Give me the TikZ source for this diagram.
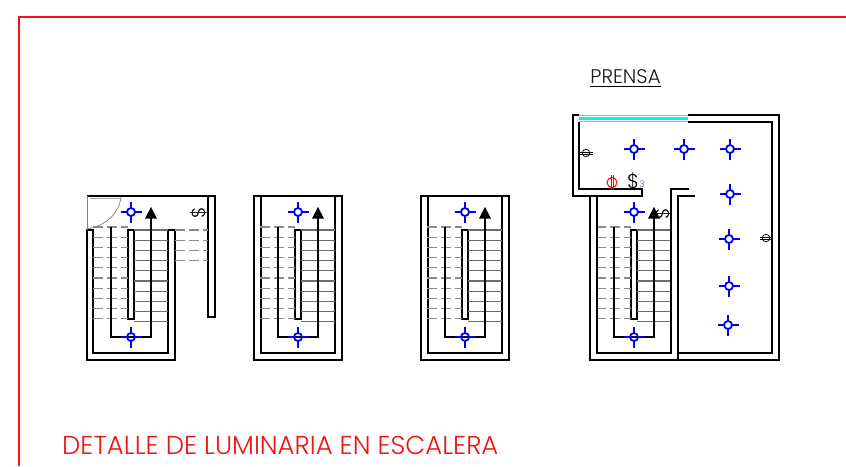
\documentclass[tikz,border=0pt]{standalone}
\usepackage{fontspec}
\setmainfont{Poppins Light}
\definecolor{lumblue}{RGB}{0,0,240}
\definecolor{framered}{RGB}{240,20,20}
\definecolor{dashgray}{RGB}{110,110,110}
\definecolor{glass}{RGB}{0,245,250}
\tikzset{
  wall/.style={draw=black,line width=1.7pt,line join=miter},
  run/.style={draw=black,line width=1.4pt},
  tread/.style={draw=dashgray,line width=1.1pt},
  hidden/.style={draw=dashgray!80,line width=1.1pt,dash pattern=on 10pt off 4pt},
  lum/.pic={
    \draw[lumblue,line width=1.8pt] (0,0) circle (4);
    \draw[lumblue,line width=1.8pt] (-10.5,0)--(-4,0) (4,0)--(10.5,0) (0,-10.5)--(0,-4) (0,4)--(0,10.5);
  },
  outlet/.pic={
    \draw[black,line width=.7pt] (0,0) circle (3.8);
    \draw[black,line width=.7pt] (-6.5,-1)--(6.5,-1) (-6.5,1)--(6.5,1);
  },
}
\newcommand{\flight}{%
  \draw[wall,fill=white,line width=1.3pt] (41,34) rectangle (47,123);
  \foreach \i in {0,...,9}{
    \draw[hidden] (6,31+\i*10.2)--(41,31+\i*10.2);
    \draw[tread] (47,34+\i*10.2)--(81,34+\i*10.2);
  }
  \draw[run] (24,31)--(24,141)--(64,141)--(64,22);
  \fill[black] (64,11)--(58,22.5)--(70,22.5)--cycle;
  \pic at (44,16) {lum};
  \pic at (44,141) {lum};
}
\begin{document}
\begin{tikzpicture}[x=1pt,y=-1pt]
\useasboundingbox (0,0) rectangle (846,466);
\fill[white] (0,0) rectangle (846,466);
% frame
\draw[framered,line width=2pt] (19,466)--(19,17)--(846,17);
% stair 1
\begin{scope}[shift={(87,196)}]
  \draw[wall] (0,34)--(0,164)--(88,164)--(88,34)--(81,34)--(81,157)--(6,157)--(6,34)--cycle;
  \draw[wall] (0,0)--(128,0);
  \draw[wall,fill=white] (121,0) rectangle (128,121);
  \draw[gray,line width=.7pt] (0,0)--(0,34);
  \draw[gray,line width=.7pt] (34,1) .. controls (32,18) and (18,30) .. (0,33);
  \draw[gray!70,line width=1.8pt] (3,2.5)--(34,2.5);
  \flight
  \foreach \i in {0,...,3}{\draw[hidden] (88,34+\i*10.2)--(121,34+\i*10.2);}
  \node[rotate=90,font=\fontsize{19}{19}\selectfont,inner sep=0] (s1) at (112,17) {\$};
\end{scope}
% stair 2, 3
\foreach \ox/\nm in {254/a,421/b}{
\begin{scope}[shift={(\ox,196)}]
  \draw[wall] (0,0) rectangle (88,164);
  \draw[wall] (7,0)--(7,157)--(81,157)--(81,0);
  \flight
\end{scope}}
% stair 4 and press room
\begin{scope}[shift={(590,196)}]
  \flight
  \node[rotate=90,font=\fontsize{19}{19}\selectfont,inner sep=0] (s2) at (73,18) {\$};
\end{scope}
\draw[wall] (688,115)--(779,115)--(779,360)--(590,360)--(590,196);
\draw[wall] (688,122)--(772,122)--(772,353)--(678,353)--(678,196)--(695,196);
\draw[wall] (678,353)--(678,360);
\draw[wall] (689,189)--(671,189)--(671,353)--(597,353)--(597,196);
\draw[wall] (579,122)--(579,189)--(642,189)--(642,196)--(573,196)--(573,115)--(579,115);
% window
\draw[gray!60,line width=1.2pt] (579,115.5)--(688,115.5) (579,121.5)--(688,121.5);
\draw[glass,line width=2.6pt] (579,118.5)--(688,118.5);
% lights
\foreach \p in {(634,149),(684,149),(730,149),(730,194),(729,239),(729,286),(728,325)}{\pic at \p {lum};}
\pic at (586,153) {outlet};
\pic at (766,238) {outlet};
% red switch
\draw[red,line width=1pt] (612,182.5) circle (5);
\draw[red,line width=1pt] (611,175)--(611,190) (613,175)--(613,190);
\node[font=\fontsize{20}{20}\selectfont,inner sep=0] (dollar) at (633,181) {\$};
\node[font=\fontsize{9}{9}\selectfont,text=blue!70,inner sep=0] (three) at (642,184.5) {3};
% texts
\node[font=\fontsize{19.7}{19.7}\selectfont,text=black!90,inner sep=0] (prensa) at (625.5,77) {PRENSA};
\draw[black,line width=1.2pt] (590,86.5)--(661,86.5);
\node[anchor=west,font=\fontsize{25.9}{25.9}\selectfont,text=framered,inner sep=0] (title) at (62,445) {DETALLE DE LUMINARIA EN ESCALERA};
\end{tikzpicture}
\end{document}
